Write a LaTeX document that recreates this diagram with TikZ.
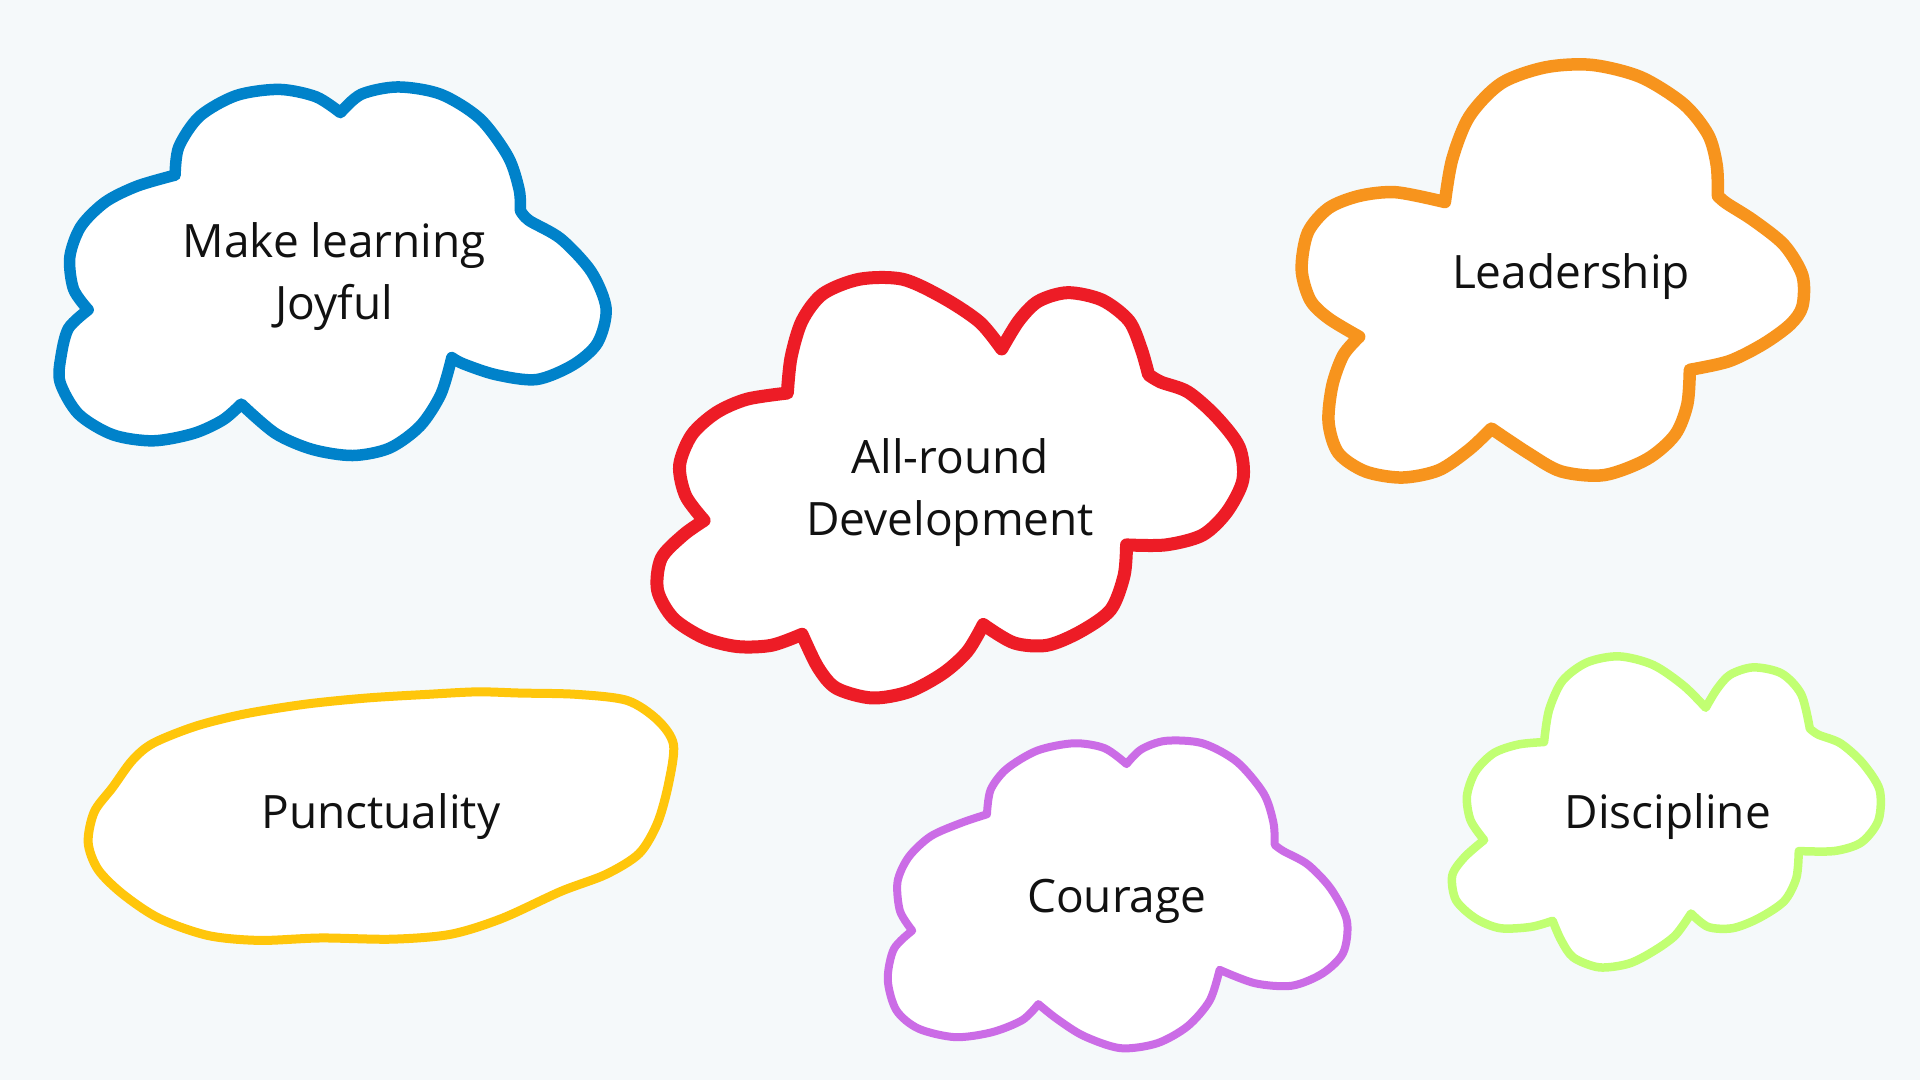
\documentclass[tikz,border=0pt]{standalone}
\usepackage{fontspec}
\setmainfont{Open Sans}
\definecolor{bg}{HTML}{F5F9FA}
\definecolor{cblue}{HTML}{0082CA}
\definecolor{cred}{HTML}{ED1C26}
\definecolor{corange}{HTML}{F7941D}
\definecolor{cyellow}{HTML}{FFC60B}
\definecolor{cpurple}{HTML}{CB6CE6}
\definecolor{cgreen}{HTML}{C1FF72}
\definecolor{ink}{HTML}{111111}
\tikzset{
  cloud/.style={fill=white, line join=round, line cap=round},
  lbl/.style={text=ink, align=center, font=\fontsize{46}{62}\selectfont, inner sep=0pt}
}
\begin{document}
\begin{tikzpicture}[x=1.2245pt,y=-1.2245pt]
\fill[bg] (0,0) rectangle (1568,882);
\useasboundingbox (0,0) rectangle (1568,882);

% Blue cloud
\draw[cloud, draw=cblue, line width=11.5pt]
 plot[smooth] coordinates {(278,92) (295,77) (325,71) (360,77) (392,97) (415,128) (424,155) (425,172)}
 -- plot[smooth] coordinates {(425,172) (432,180) (458,195) (483,222) (495,252) (488,280) (468,298) (438,310) (405,306) (378,297) (369,292)}
 -- plot[smooth] coordinates {(369,292) (360,322) (343,348) (318,366) (288,372) (255,367) (225,354) (197,330)}
 -- plot[smooth] coordinates {(197,330) (182,343) (158,354) (125,360) (92,355) (64,338) (49,312) (50,290) (56,268) (72,253)}
 -- plot[smooth] coordinates {(72,253) (60,236) (57,210) (66,185) (86,165) (112,152) (143,143)}
 -- plot[smooth] coordinates {(143,143) (146,120) (163,95) (193,78) (228,73) (258,79) (278,92)}
 -- cycle;

% Red cloud
\draw[cloud, draw=cred, line width=13pt]
 plot[smooth] coordinates {(818,285) (832,262) (848,246) (872,239) (900,245) (922,262) (932,285) (938,306)}
 -- plot[smooth] coordinates {(938,306) (948,312) (970,320) (993,340) (1012,365) (1015,392) (1002,418) (982,437) (952,445) (920,445)}
 -- plot[smooth] coordinates {(920,445) (918,470) (907,498) (882,516) (855,527) (828,525) (803,510)}
 -- plot[smooth] coordinates {(803,510) (790,532) (770,550) (742,565) (712,570) (683,562) (668,545) (655,518)}
 -- plot[smooth] coordinates {(655,518) (630,527) (602,528) (575,521) (550,505) (537,482) (540,456) (558,437) (575,425)}
 -- plot[smooth] coordinates {(575,425) (560,405) (555,380) (565,355) (585,337) (610,326) (643,321)}
 -- plot[smooth] coordinates {(643,321) (646,292) (655,262) (672,240) (702,228) (737,228) (770,243) (800,263) (818,285)}
 -- cycle;

% Orange cloud
\draw[cloud, draw=corange, line width=12.5pt]
 plot[smooth] coordinates {(1180,165) (1186,130) (1200,95) (1226,68) (1262,55) (1300,53) (1340,63) (1375,85) (1395,110) (1402,135) (1403,160)}
 -- plot[smooth] coordinates {(1403,160) (1410,166) (1432,180) (1457,200) (1472,225) (1472,250) (1462,265) (1440,281) (1412,295) (1380,302)}
 -- plot[smooth] coordinates {(1380,302) (1378,330) (1368,355) (1345,375) (1310,388) (1275,385) (1248,370) (1218,350)}
 -- plot[smooth] coordinates {(1218,350) (1200,367) (1175,384) (1145,390) (1115,385) (1093,370) (1085,345) (1088,315) (1097,290) (1110,275)}
 -- plot[smooth] coordinates {(1110,275) (1085,260) (1070,245) (1063,220) (1068,190) (1085,170) (1110,160) (1140,157) (1180,165)}
 -- cycle;

% Yellow blob
\draw[cloud, draw=cyellow, line width=9pt]
 plot[smooth cycle] coordinates {(125,607) (160,593) (200,583) (250,575) (300,570) (350,567) (390,565) (425,566) (470,567) (512,572) (537,588) (550,608) (546,640) (537,672) (522,697) (495,714) (458,728) (410,750) (368,763) (320,767) (262,766) (212,768) (170,764) (130,750) (100,730) (80,710) (72,688) (77,663) (92,643) (108,621)};

% Purple cloud
\draw[cloud, draw=cpurple, line width=8pt]
 plot[smooth] coordinates {(920,624) (932,612) (952,605) (982,607) (1010,622) (1032,648) (1040,672) (1041,690)}
 -- plot[smooth] coordinates {(1041,690) (1048,695) (1068,706) (1087,726) (1100,752) (1097,778) (1080,795) (1055,805) (1025,803) (996,792)}
 -- plot[smooth] coordinates {(996,792) (988,817) (970,838) (945,852) (915,856) (885,846) (863,832) (848,820)}
 -- plot[smooth] coordinates {(848,820) (835,833) (810,843) (780,847) (750,840) (732,825) (725,800) (730,775) (745,760)}
 -- plot[smooth] coordinates {(745,760) (735,744) (733,720) (742,700) (760,683) (785,672) (806,665)}
 -- plot[smooth] coordinates {(806,665) (809,645) (822,628) (847,613) (877,607) (902,611) (920,624)}
 -- cycle;

% Green cloud
\draw[cloud, draw=cgreen, line width=8.5pt]
 plot[smooth] coordinates {(1393,578) (1402,563) (1413,551) (1432,545) (1455,550) (1471,567) (1478,595)}
 -- plot[smooth] coordinates {(1478,595) (1485,600) (1503,607) (1521,623) (1535,645) (1534,670) (1520,688) (1498,695) (1469,695)}
 -- plot[smooth] coordinates {(1469,695) (1467,717) (1457,736) (1436,750) (1415,758) (1395,757) (1381,746)}
 -- plot[smooth] coordinates {(1381,746) (1368,764) (1350,777) (1330,787) (1306,790) (1285,782) (1275,768) (1268,752)}
 -- plot[smooth] coordinates {(1268,752) (1250,757) (1225,758) (1205,750) (1189,735) (1186,715) (1196,700) (1212,686)}
 -- plot[smooth] coordinates {(1212,686) (1201,670) (1198,650) (1205,630) (1220,615) (1240,608) (1261,606)}
 -- plot[smooth] coordinates {(1261,606) (1265,580) (1276,556) (1296,541) (1322,536) (1350,543) (1375,560) (1393,578)}
 -- cycle;

% Labels
\node[lbl] (joy) at (273,226) {Make learning\\Joyful};
\node[lbl] (dev) at (776,402) {All-round\\Development};
\node[lbl] (lead) at (1283,226) {Leadership};
\node[lbl] (punct) at (311,667) {Punctuality};
\node[lbl] (cour) at (912,736) {Courage};
\node[lbl] (disc) at (1362,667) {Discipline};
\end{tikzpicture}
\end{document}
